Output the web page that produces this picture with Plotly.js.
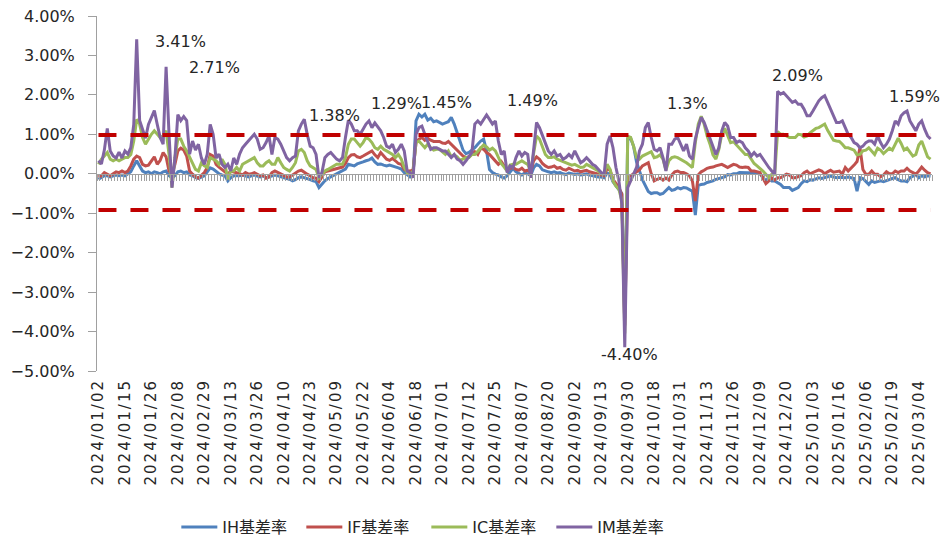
<!DOCTYPE html>
<html>
<head>
<meta charset="utf-8">
<script src="https://cdn.plot.ly/plotly-3.0.1.min.js"></script>
<style>
  html, body { margin: 0; padding: 0; background: #ffffff; }
  #chart { width: 940px; height: 544px; }
  #chart .xtick text { letter-spacing: 2px; }
</style>
</head>
<body>
<div id="chart"></div>
<script>
// Trading days (category axis)
const categories = [
  "2024/01/02","2024/01/03","2024/01/04","2024/01/05","2024/01/08","2024/01/09","2024/01/10","2024/01/11","2024/01/12","2024/01/15",
  "2024/01/16","2024/01/17","2024/01/18","2024/01/19","2024/01/22","2024/01/23","2024/01/24","2024/01/25","2024/01/26","2024/01/29",
  "2024/01/30","2024/01/31","2024/02/01","2024/02/02","2024/02/05","2024/02/06","2024/02/07","2024/02/08","2024/02/19","2024/02/20",
  "2024/02/21","2024/02/22","2024/02/23","2024/02/26","2024/02/27","2024/02/28","2024/02/29","2024/03/01","2024/03/04","2024/03/05",
  "2024/03/06","2024/03/07","2024/03/08","2024/03/11","2024/03/12","2024/03/13","2024/03/14","2024/03/15","2024/03/18","2024/03/19",
  "2024/03/20","2024/03/21","2024/03/22","2024/03/25","2024/03/26","2024/03/27","2024/03/28","2024/03/29","2024/04/01","2024/04/02",
  "2024/04/03","2024/04/08","2024/04/09","2024/04/10","2024/04/11","2024/04/12","2024/04/15","2024/04/16","2024/04/17","2024/04/18",
  "2024/04/19","2024/04/22","2024/04/23","2024/04/24","2024/04/25","2024/04/26","2024/04/29","2024/04/30","2024/05/06","2024/05/07",
  "2024/05/08","2024/05/09","2024/05/10","2024/05/13","2024/05/14","2024/05/15","2024/05/16","2024/05/17","2024/05/20","2024/05/21",
  "2024/05/22","2024/05/23","2024/05/24","2024/05/27","2024/05/28","2024/05/29","2024/05/30","2024/05/31","2024/06/03","2024/06/04",
  "2024/06/05","2024/06/06","2024/06/07","2024/06/11","2024/06/12","2024/06/13","2024/06/14","2024/06/17","2024/06/18","2024/06/19",
  "2024/06/20","2024/06/21","2024/06/24","2024/06/25","2024/06/26","2024/06/27","2024/06/28","2024/07/01","2024/07/02","2024/07/03",
  "2024/07/04","2024/07/05","2024/07/08","2024/07/09","2024/07/10","2024/07/11","2024/07/12","2024/07/15","2024/07/16","2024/07/17",
  "2024/07/18","2024/07/19","2024/07/22","2024/07/23","2024/07/24","2024/07/25","2024/07/26","2024/07/29","2024/07/30","2024/07/31",
  "2024/08/01","2024/08/02","2024/08/05","2024/08/06","2024/08/07","2024/08/08","2024/08/09","2024/08/12","2024/08/13","2024/08/14",
  "2024/08/15","2024/08/16","2024/08/19","2024/08/20","2024/08/21","2024/08/22","2024/08/23","2024/08/26","2024/08/27","2024/08/28",
  "2024/08/29","2024/08/30","2024/09/02","2024/09/03","2024/09/04","2024/09/05","2024/09/06","2024/09/09","2024/09/10","2024/09/11",
  "2024/09/12","2024/09/13","2024/09/18","2024/09/19","2024/09/20","2024/09/23","2024/09/24","2024/09/25","2024/09/26","2024/09/27",
  "2024/09/30","2024/10/08","2024/10/09","2024/10/10","2024/10/11","2024/10/14","2024/10/15","2024/10/16","2024/10/17","2024/10/18",
  "2024/10/21","2024/10/22","2024/10/23","2024/10/24","2024/10/25","2024/10/28","2024/10/29","2024/10/30","2024/10/31","2024/11/01",
  "2024/11/04","2024/11/05","2024/11/06","2024/11/07","2024/11/08","2024/11/11","2024/11/12","2024/11/13","2024/11/14","2024/11/15",
  "2024/11/18","2024/11/19","2024/11/20","2024/11/21","2024/11/22","2024/11/25","2024/11/26","2024/11/27","2024/11/28","2024/11/29",
  "2024/12/02","2024/12/03","2024/12/04","2024/12/05","2024/12/06","2024/12/09","2024/12/10","2024/12/11","2024/12/12","2024/12/13",
  "2024/12/16","2024/12/17","2024/12/18","2024/12/19","2024/12/20","2024/12/23","2024/12/24","2024/12/25","2024/12/26","2024/12/27",
  "2024/12/30","2024/12/31","2025/01/02","2025/01/03","2025/01/06","2025/01/07","2025/01/08","2025/01/09","2025/01/10","2025/01/13",
  "2025/01/14","2025/01/15","2025/01/16","2025/01/17","2025/01/20","2025/01/21","2025/01/22","2025/01/23","2025/01/24","2025/01/27",
  "2025/02/05","2025/02/06","2025/02/07","2025/02/10","2025/02/11","2025/02/12","2025/02/13","2025/02/14","2025/02/17","2025/02/18",
  "2025/02/19","2025/02/20","2025/02/21","2025/02/24","2025/02/25","2025/02/26","2025/02/27","2025/02/28","2025/03/03","2025/03/04",
  "2025/03/05","2025/03/06","2025/03/07","2025/03/10"
];

const tickLabels = [
  "2024/01/02","2024/01/15","2024/01/26","2024/02/08","2024/02/29","2024/03/13","2024/03/26","2024/04/10",
  "2024/04/23","2024/05/09","2024/05/22","2024/06/04","2024/06/18","2024/07/01","2024/07/12","2024/07/25",
  "2024/08/07","2024/08/20","2024/09/02","2024/09/13","2024/09/30","2024/10/18","2024/10/31","2024/11/13",
  "2024/11/26","2024/12/09","2024/12/20","2025/01/03","2025/01/16","2025/02/06","2025/02/19","2025/03/04"
];

const seriesNames = ["IH基差率", "IF基差率", "IC基差率", "IM基差率"];

// IH basis rate (%)
const ihBasis = [
  -0.14,-0.10,-0.05,-0.05,-0.08,-0.05,-0.03,-0.05,-0.03,-0.05,
  0.00,0.05,0.20,0.33,0.20,0.07,0.03,0.05,0.00,0.05,
  0.03,0.00,0.05,0.07,-0.05,-0.10,-0.05,0.05,0.07,0.03,
  0.05,-0.03,-0.05,-0.10,-0.12,-0.08,-0.05,0.05,0.15,0.12,
  0.05,0.00,-0.03,-0.05,-0.18,-0.10,-0.05,-0.05,-0.05,-0.03,
  -0.05,-0.08,-0.05,-0.03,-0.06,-0.08,-0.05,-0.10,-0.08,-0.05,
  -0.03,-0.05,-0.08,-0.10,-0.12,-0.14,-0.18,-0.15,-0.10,-0.08,
  -0.10,-0.12,-0.15,-0.18,-0.20,-0.35,-0.25,-0.18,-0.12,-0.08,
  -0.05,-0.02,0.03,0.07,0.12,0.24,0.22,0.20,0.25,0.27,
  0.30,0.33,0.35,0.40,0.30,0.24,0.25,0.22,0.20,0.22,
  0.20,0.18,0.15,0.12,0.03,-0.02,-0.08,-0.05,1.34,1.51,
  1.44,1.51,1.36,1.41,1.32,1.34,1.30,1.26,1.29,1.32,
  1.43,1.26,1.04,0.79,0.60,0.51,0.54,0.60,0.66,0.75,
  0.83,0.88,0.58,0.11,0.03,-0.01,-0.03,-0.08,-0.11,-0.05,
  0.05,0.14,0.05,0.00,-0.03,0.02,0.00,-0.05,0.15,0.24,
  0.20,0.10,0.07,0.05,0.03,0.05,0.02,0.03,0.00,-0.02,
  0.02,0.00,-0.02,0.00,-0.03,-0.02,0.00,-0.03,-0.05,-0.06,
  -0.08,-0.08,-0.10,0.02,-0.02,-0.20,-0.30,-0.40,-0.50,-3.65,
  0.88,0.90,0.70,0.30,0.05,-0.15,-0.30,-0.45,-0.50,-0.48,
  -0.48,-0.52,-0.50,-0.42,-0.35,-0.42,-0.40,-0.35,-0.38,-0.35,
  -0.36,-0.40,-0.44,-1.05,-0.30,-0.27,-0.26,-0.22,-0.20,-0.18,
  -0.14,-0.12,-0.10,-0.08,-0.02,-0.03,0.00,0.00,0.03,0.03,
  0.02,0.03,0.03,0.03,0.02,0.00,-0.10,-0.18,-0.10,-0.18,
  -0.18,-0.22,-0.27,-0.35,-0.35,-0.35,-0.42,-0.38,-0.35,-0.25,
  -0.18,-0.20,-0.15,-0.16,-0.12,-0.10,-0.12,-0.10,-0.08,-0.06,
  -0.08,-0.10,-0.09,-0.10,-0.10,-0.08,-0.10,-0.12,-0.44,-0.10,
  -0.12,-0.20,-0.27,-0.18,-0.22,-0.20,-0.18,-0.20,-0.18,-0.15,
  -0.12,-0.10,-0.15,-0.18,-0.18,-0.20,-0.10,-0.05,-0.02,-0.10,
  -0.05,-0.08,-0.05,-0.06
];

// IF basis rate (%)
const ifBasis = [
  -0.08,-0.05,0.03,0.00,-0.05,0.00,0.05,0.03,0.07,0.03,
  0.07,0.20,0.37,0.45,0.41,0.24,0.20,0.22,0.33,0.43,
  0.24,0.34,0.54,0.43,0.07,-0.01,0.24,0.58,0.65,0.60,
  0.45,0.07,-0.01,-0.08,-0.11,-0.03,0.03,0.16,0.49,0.45,
  0.24,0.17,0.11,0.07,-0.01,0.07,0.05,0.03,0.00,-0.03,
  0.03,-0.01,0.00,0.03,-0.01,-0.05,-0.03,-0.11,-0.08,0.03,
  0.07,0.03,-0.01,-0.05,-0.08,-0.08,-0.03,0.03,0.07,0.09,
  0.03,-0.01,-0.05,-0.10,-0.11,-0.20,-0.08,0.05,0.07,0.09,
  0.11,0.14,0.16,0.17,0.26,0.41,0.48,0.49,0.43,0.41,
  0.45,0.49,0.54,0.58,0.48,0.41,0.54,0.45,0.37,0.34,
  0.39,0.33,0.26,0.24,0.11,0.07,0.07,0.10,0.79,0.88,
  0.92,0.85,0.90,0.85,0.82,0.82,0.82,0.78,0.77,0.82,
  0.75,0.68,0.60,0.53,0.45,0.41,0.43,0.49,0.56,0.49,
  0.65,0.62,0.54,0.49,0.41,0.34,0.24,0.31,0.20,0.09,
  0.14,0.16,0.11,0.09,0.14,0.07,0.09,0.03,0.33,0.43,
  0.37,0.26,0.20,0.16,0.17,0.20,0.14,0.16,0.11,0.09,
  0.14,0.10,0.07,0.09,0.05,0.07,0.09,0.05,0.03,0.00,
  -0.01,-0.03,-0.05,0.14,0.09,-0.14,-0.25,-0.35,-0.52,-3.85,
  -0.10,-0.05,0.00,0.05,0.10,0.20,0.24,0.28,0.00,-0.18,
  -0.14,-0.11,-0.16,-0.11,-0.16,-0.03,0.05,0.07,0.03,0.03,
  0.00,-0.05,-0.18,-0.69,-0.03,0.05,0.09,0.14,0.16,0.17,
  0.20,0.22,0.24,0.20,0.16,0.20,0.24,0.22,0.17,0.16,
  0.17,0.16,0.07,0.07,0.05,0.03,-0.11,-0.25,-0.18,-0.10,
  -0.16,-0.10,-0.10,-0.05,-0.01,-0.03,-0.10,-0.10,-0.08,-0.05,
  0.03,0.07,0.00,0.03,0.07,0.10,0.07,0.00,0.05,0.09,
  0.04,0.05,0.07,-0.01,0.16,0.07,0.14,0.22,0.31,0.66,
  0.11,-0.01,-0.01,0.07,-0.01,-0.01,-0.08,-0.03,0.05,0.00,
  0.00,0.07,0.03,0.07,0.07,0.14,0.07,0.03,-0.01,0.07,
  0.17,0.09,0.03,0.00
];

// IC basis rate (%)
const icBasis = [
  0.24,0.37,0.45,0.54,0.37,0.33,0.37,0.33,0.37,0.41,
  0.41,0.49,0.83,1.38,1.26,0.92,0.75,0.88,1.00,1.09,
  1.00,0.92,0.96,1.09,0.49,-0.35,0.41,0.88,0.88,0.70,
  0.58,0.41,0.24,0.11,0.07,0.28,0.20,0.16,0.41,0.37,
  0.33,0.24,0.37,0.24,-0.14,0.07,0.07,0.16,0.07,0.24,
  0.28,0.33,0.37,0.41,0.28,0.20,0.20,0.28,0.33,0.24,
  0.24,0.41,0.28,0.16,0.11,0.07,0.16,0.28,0.58,0.62,
  0.54,0.33,0.20,0.16,0.11,-0.10,-0.01,0.07,0.11,0.16,
  0.20,0.24,0.24,0.24,0.41,0.75,0.88,0.88,0.79,0.70,
  0.79,0.92,0.88,0.79,0.66,0.62,0.70,0.62,0.58,0.54,
  0.49,0.41,0.49,0.37,0.16,0.03,0.03,0.05,0.79,0.83,
  0.75,0.66,0.75,0.66,0.60,0.62,0.62,0.56,0.49,0.58,
  0.43,0.48,0.43,0.34,0.37,0.41,0.41,0.49,0.49,0.56,
  0.65,0.73,0.68,0.60,0.65,0.58,0.41,0.26,0.17,0.07,
  0.22,0.24,0.24,0.28,0.33,0.28,0.24,0.07,0.54,0.96,
  0.88,0.70,0.49,0.41,0.41,0.43,0.37,0.34,0.31,0.26,
  0.24,0.22,0.24,0.20,0.16,0.17,0.24,0.20,0.16,0.11,
  0.07,0.00,-0.01,0.24,0.11,-0.18,-0.31,-0.39,-0.69,-4.05,
  0.95,0.92,0.70,0.41,0.37,0.45,0.49,0.51,0.56,0.41,
  0.43,0.48,0.37,0.09,0.33,0.41,0.43,0.41,0.37,0.33,
  0.28,0.22,0.16,0.79,1.26,1.46,1.26,0.96,0.75,0.48,
  0.37,0.62,1.00,1.15,0.96,0.79,0.81,0.73,0.65,0.58,
  0.49,0.49,0.37,0.26,0.20,0.14,0.07,-0.01,-0.10,-0.01,
  -0.01,1.07,1.00,1.00,0.95,0.92,0.92,0.92,1.00,0.99,
  0.93,0.96,1.04,1.10,1.15,1.17,1.21,1.26,1.10,0.96,
  0.85,0.83,0.82,0.75,0.66,0.66,0.63,0.60,0.48,0.49,
  0.58,0.60,0.66,0.58,0.49,0.65,0.60,0.51,0.58,0.65,
  0.60,0.75,0.90,0.77,0.60,0.65,0.54,0.45,0.49,0.73,
  0.83,0.62,0.43,0.37
];

// IM basis rate (%)
const imBasis = [
  0.33,0.25,0.60,1.15,0.58,0.45,0.40,0.55,0.40,0.58,
  0.50,0.66,1.25,3.41,1.35,1.10,0.90,1.25,1.43,1.60,
  1.25,0.92,0.75,2.71,1.00,-0.35,0.40,1.50,1.35,1.45,
  1.35,0.50,0.83,0.60,0.75,0.40,0.24,0.50,1.25,1.00,
  0.40,0.50,0.24,0.16,0.24,0.07,0.40,0.24,0.50,0.66,
  0.75,0.83,0.92,1.00,0.88,0.62,0.66,0.79,0.96,0.49,
  0.92,0.88,0.75,0.58,0.41,0.33,0.41,0.45,1.09,1.26,
  1.38,1.00,0.70,0.66,0.49,-0.10,0.03,0.41,0.49,0.54,
  0.45,0.37,0.33,0.41,0.92,1.36,1.26,1.09,1.09,1.00,
  1.13,1.26,1.34,1.17,1.29,1.20,1.09,0.92,0.70,0.66,
  0.75,0.54,0.62,0.75,0.58,0.07,0.03,-0.10,1.00,1.17,
  1.21,1.00,0.79,0.62,0.66,0.66,0.62,0.58,0.58,0.49,
  0.41,0.49,0.37,0.33,0.24,0.33,0.45,0.54,1.26,1.34,
  1.26,1.38,1.49,1.38,1.26,1.34,0.83,0.49,0.58,0.03,
  0.20,0.16,0.41,0.58,0.45,0.54,0.49,-0.10,0.66,1.30,
  1.17,0.96,0.75,0.58,0.49,0.58,0.45,0.49,0.37,0.41,
  0.49,0.41,0.58,0.41,0.28,0.33,0.41,0.33,0.24,0.20,
  0.11,0.03,-0.01,0.75,0.96,0.66,0.16,-0.18,-0.77,-4.40,
  -0.35,-0.18,-0.05,0.16,0.58,0.75,1.17,1.30,0.92,0.62,
  0.58,0.66,0.41,0.07,0.75,0.75,0.88,0.92,0.75,0.58,
  0.75,0.45,0.37,0.88,1.17,1.43,1.30,1.09,0.88,0.66,
  0.49,0.66,1.09,1.30,1.21,0.92,0.92,0.79,0.83,0.79,
  0.66,0.58,0.45,0.54,0.45,0.49,0.37,0.28,0.16,0.07,
  -0.01,2.09,2.02,2.06,1.98,1.89,1.81,1.85,1.76,1.76,
  1.64,1.47,1.47,1.59,1.72,1.85,1.93,1.98,1.81,1.64,
  1.47,1.30,1.30,1.34,1.17,1.00,0.92,0.79,0.75,0.66,
  0.70,0.79,0.83,0.83,0.75,0.96,0.79,0.66,0.75,0.88,
  1.09,1.34,1.26,1.47,1.55,1.59,1.34,1.21,1.09,1.26,
  1.34,1.13,0.96,0.88
];

const upperBand = 0.98;
const lowerBand = -0.92;

// data labels: which series, which trading day, text
const labelSeries = ["IM","IM","IM","IM","IH","IM","IM","IM","IM","IM"];
const labelDates  = ["2024/01/19","2024/02/02","2024/04/19","2024/05/28","2024/06/20","2024/07/22","2024/09/27","2024/10/16","2024/12/17","2025/02/26"];
const labelText   = ["3.41%","2.71%","1.38%","1.29%","1.45%","1.49%","-4.40%","1.3%","2.09%","1.59%"];

// ---- styling ----
const FONT = "DejaVu Sans, Verdana, 'Noto Sans CJK SC', sans-serif";
const TEXT = "#262626";
const AXIS = "#a0a0a0";
const colors = ["#4f81bd", "#c0504d", "#9bbb59", "#8064a2"];
const labelShift = [[44,-2],[48,-1],[30,4],[22,19],[25,14],[46,15],[5,-7],[39,19],[20,16],[7,15]];

const seriesData = { IH: ihBasis, IF: ifBasis, IC: icBasis, IM: imBasis };
const allSeries = [ihBasis, ifBasis, icBasis, imBasis];

const traces = allSeries.map((ys, k) => ({
  type: "scatter", mode: "lines",
  x: categories, y: ys, name: seriesNames[k],
  line: { color: colors[k], width: 3 },
  hoverinfo: "skip"
}));

[upperBand, lowerBand].forEach((v) => {
  traces.push({
    type: "scatter", mode: "lines", xaxis: "x2", yaxis: "y",
    x: categories, y: categories.map(() => v),
    line: { color: "#c00000", width: 4, dash: "18px,14px" },
    showlegend: false, hoverinfo: "skip"
  });
});

const annotations = labelText.map((t, k) => {
  const idx = categories.indexOf(labelDates[k]);
  return {
    x: labelDates[k], y: seriesData[labelSeries[k]][idx],
    xref: "x", yref: "y", text: t, showarrow: false,
    xanchor: "center", yanchor: "middle",
    xshift: labelShift[k][0], yshift: labelShift[k][1],
    font: { family: FONT, size: 16, color: TEXT }
  };
});

const layout = {
  width: 940, height: 544,
  margin: { l: 97, r: 8, t: 16, b: 173, pad: 0, autoexpand: false },
  paper_bgcolor: "#ffffff", plot_bgcolor: "#ffffff",
  font: { family: FONT, size: 16, color: TEXT },
  showlegend: true,
  legend: {
    orientation: "h", x: 0.095, xanchor: "left", y: -0.44, yanchor: "middle",
    font: { family: FONT, size: 16, color: TEXT },
    traceorder: "normal", itemwidth: 36, entrywidth: 74, entrywidthmode: "pixels",
    bgcolor: "rgba(0,0,0,0)"
  },
  xaxis: {
    type: "category", range: [-0.5, categories.length - 0.5],
    tickmode: "array", tickvals: tickLabels, ticktext: tickLabels,
    tickangle: -90, tickfont: { family: FONT, size: 15, color: TEXT },
    ticklabelstandoff: 4,
    showline: false, showgrid: false, zeroline: false, ticks: "",
    automargin: false, fixedrange: true
  },
  xaxis2: {
    type: "category", overlaying: "x", anchor: "free", position: 5 / 9,
    side: "bottom", range: [-0.5, categories.length - 0.5],
    showline: true, linecolor: AXIS, linewidth: 1,
    ticks: "outside", ticklen: 6, tickcolor: AXIS, tickwidth: 1,
    tickmode: "linear", tick0: 0, dtick: 1, tickson: "boundaries",
    showticklabels: false, showgrid: false, zeroline: false, fixedrange: true
  },
  yaxis: {
    range: [-5, 4], dtick: 1, tick0: 0, tickformat: ".2f", ticksuffix: "%",
    showline: true, linecolor: AXIS, linewidth: 1,
    ticks: "outside", ticklen: 8, tickcolor: AXIS,
    ticklabelstandoff: 10,
    showgrid: false, zeroline: false, automargin: false,
    tickfont: { family: FONT, size: 16, color: TEXT }, fixedrange: true
  },
  annotations: annotations
};

Plotly.newPlot("chart", traces, layout, { displayModeBar: false, staticPlot: true });
</script>
</body>
</html>
